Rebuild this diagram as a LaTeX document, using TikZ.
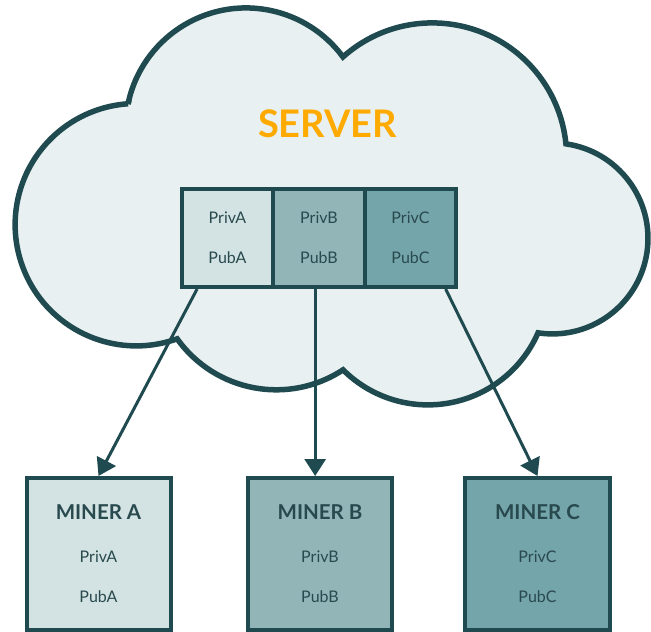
\documentclass[tikz,border=0pt]{standalone}
\usepackage{fontspec}
\setmainfont{Lato}
\usetikzlibrary{arrows.meta,calc}
\definecolor{dk}{HTML}{1F4A50}
\definecolor{txt}{HTML}{28494E}
\definecolor{cloudfill}{HTML}{E8F0F1}
\definecolor{cA}{HTML}{D3E3E3}
\definecolor{cB}{HTML}{92B6B7}
\definecolor{cC}{HTML}{74A5AA}
\definecolor{orng}{HTML}{FFAA00}
\tikzset{
  cloudshape/.style={fill=cloudfill, draw=dk, line width=5.5pt, line join=miter, miter limit=5},
  cell/.style={draw=dk, line width=4pt, minimum height=98pt, inner sep=0pt},
  minerbox/.style={draw=dk, line width=4pt, minimum width=144pt, minimum height=152pt, inner sep=0pt},
  keytext/.style={text=txt, font=\fontsize{16}{18}\selectfont, inner sep=0pt},
  minertitle/.style={text=txt, font=\bfseries\fontsize{20.5}{24}\selectfont, inner sep=0pt},
  servertitle/.style={text=orng, font=\bfseries\fontsize{38}{40}\selectfont, inner sep=0pt},
  arr/.style={draw=dk, line width=3pt, -{Triangle[length=17pt,width=21pt]}}
}
\begin{document}
\begin{tikzpicture}[x=1pt,y=-1pt]
\useasboundingbox (0,0) rectangle (651,632);
% cloud
\path[cloudshape] (128,104)
  arc[start angle=191.7, end angle=323.6, radius=120.5]
  arc[start angle=228.3, end angle=354.3, radius=134.3]
  arc[start angle=278.1, end angle=458.7, radius=95.5]
  arc[start angle=23.6, end angle=134.9, radius=120.2]
  arc[start angle=56.7, end angle=144.5, radius=121.7]
  arc[start angle=70.3, end angle=266.1, radius=121.2]
  -- cycle;
\node[servertitle] (server) at (327.5,123.5) {SERVER};
% key cells
\node[cell, fill=cA, minimum width=91pt] (cellA) at (227.5,238) {};
\node[cell, fill=cB, minimum width=92pt] (cellB) at (319,238) {};
\node[cell, fill=cC, minimum width=91pt] (cellC) at (410.5,238) {};
% miners
\node[minerbox, fill=cA] (minerA) at (98.5,554) {};
\node[minerbox, fill=cB] (minerB) at (320,554) {};
\node[minerbox, fill=cC, minimum width=145pt] (minerC) at (537.5,554) {};
% arrows
\coordinate (as) at ($(cellA.south west)!0.18!(cellA.south east)$);
\coordinate (bs) at ($(cellB.south west)!0.46!(cellB.south east)$);
\coordinate (cs) at ($(cellC.south west)!0.87!(cellC.south east)$);
\draw[arr] (as) -- (minerA.north);
\draw[arr] (bs) -- (bs |- minerB.north);
\draw[arr] (cs) -- (minerC.north);
% cell texts
\node[keytext] (privA) at ($(cellA.center)+(0,-20)$) {PrivA};
\node[keytext] (pubA) at ($(cellA.center)+(0,20)$) {PubA};
\node[keytext] (privB) at ($(cellB.center)+(0,-20)$) {PrivB};
\node[keytext] (pubB) at ($(cellB.center)+(0,20)$) {PubB};
\node[keytext] (privC) at ($(cellC.center)+(0,-20)$) {PrivC};
\node[keytext] (pubC) at ($(cellC.center)+(0,20)$) {PubC};
% miner texts
\node[minertitle] (mtA) at ($(minerA.north)+(0,36)$) {MINER A};
\node[keytext] (mprivA) at ($(minerA.north)+(0,81)$) {PrivA};
\node[keytext] (mpubA) at ($(minerA.north)+(0,121)$) {PubA};
\node[minertitle] (mtB) at ($(minerB.north)+(0,36)$) {MINER B};
\node[keytext] (mprivB) at ($(minerB.north)+(0,81)$) {PrivB};
\node[keytext] (mpubB) at ($(minerB.north)+(0,121)$) {PubB};
\node[minertitle] (mtC) at ($(minerC.north)+(0,36)$) {MINER C};
\node[keytext] (mprivC) at ($(minerC.north)+(0,81)$) {PrivC};
\node[keytext] (mpubC) at ($(minerC.north)+(0,121)$) {PubC};
\end{tikzpicture}
\end{document}
